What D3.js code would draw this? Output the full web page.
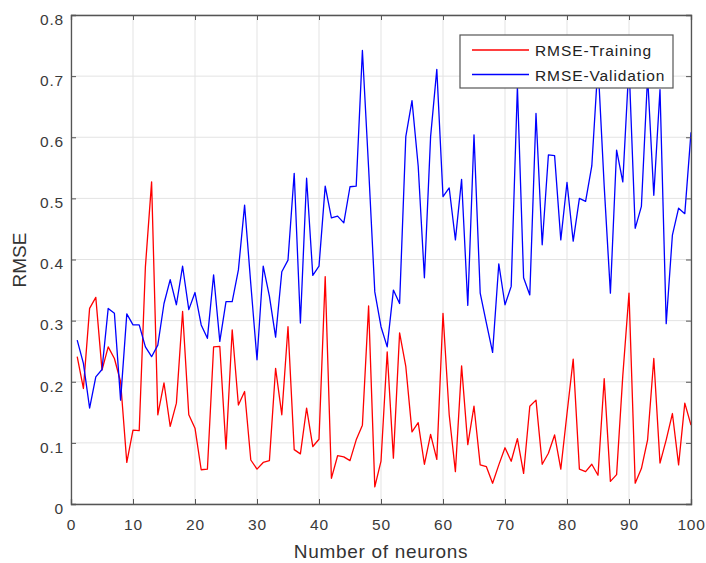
<!DOCTYPE html>
<html>
<head>
<meta charset="utf-8">
<script src="https://cdn.jsdelivr.net/npm/d3@7"></script>
<style>
  html, body { margin: 0; padding: 0; background: #fff; }
  svg { display: block; font-family: "Liberation Sans", Arial, sans-serif; }
</style>
</head>
<body>
<svg id="chart" width="706" height="563"></svg>
<script>
const neurons = d3.range(1, 101);
const rmseTraining = [
  0.241, 0.189, 0.320, 0.338, 0.219, 0.257, 0.238, 0.200, 0.068, 0.121,
  0.120, 0.388, 0.527, 0.146, 0.198, 0.127, 0.165, 0.315, 0.146, 0.124,
  0.056, 0.057, 0.257, 0.258, 0.090, 0.285, 0.162, 0.184, 0.072, 0.057,
  0.068, 0.071, 0.222, 0.146, 0.290, 0.089, 0.082, 0.157, 0.094, 0.106,
  0.372, 0.042, 0.079, 0.077, 0.071, 0.105, 0.129, 0.324, 0.028, 0.070,
  0.249, 0.075, 0.280, 0.225, 0.118, 0.133, 0.065, 0.114, 0.073, 0.312,
  0.146, 0.053, 0.226, 0.097, 0.160, 0.064, 0.061, 0.034, 0.064, 0.092,
  0.070, 0.107, 0.050, 0.160, 0.170, 0.065, 0.083, 0.113, 0.057, 0.148,
  0.237, 0.057, 0.053, 0.065, 0.047, 0.205, 0.037, 0.048, 0.210, 0.345,
  0.034, 0.058, 0.105, 0.238, 0.067, 0.105, 0.148, 0.064, 0.165, 0.129
];
const rmseValidation = [
  0.268, 0.230, 0.157, 0.208, 0.220, 0.320, 0.312, 0.170, 0.311, 0.293,
  0.293, 0.257, 0.241, 0.260, 0.328, 0.367, 0.326, 0.389, 0.318, 0.346,
  0.293, 0.271, 0.375, 0.266, 0.331, 0.331, 0.383, 0.489, 0.360, 0.236,
  0.389, 0.340, 0.273, 0.380, 0.399, 0.541, 0.296, 0.533, 0.374, 0.389,
  0.520, 0.468, 0.471, 0.460, 0.519, 0.520, 0.742, 0.550, 0.347, 0.290,
  0.257, 0.350, 0.328, 0.601, 0.660, 0.553, 0.370, 0.601, 0.711, 0.503,
  0.517, 0.432, 0.531, 0.325, 0.604, 0.345, 0.296, 0.248, 0.393, 0.326,
  0.356, 0.683, 0.370, 0.342, 0.639, 0.424, 0.571, 0.570, 0.432, 0.526,
  0.430, 0.500, 0.495, 0.553, 0.720, 0.520, 0.345, 0.579, 0.527, 0.720,
  0.451, 0.487, 0.700, 0.505, 0.678, 0.295, 0.440, 0.484, 0.475, 0.608
];
const xTicks = [0, 10, 20, 30, 40, 50, 60, 70, 80, 90, 100];
const yTicks = [0, 0.1, 0.2, 0.3, 0.4, 0.5, 0.6, 0.7, 0.8];
const seriesNames = ["RMSE-Training", "RMSE-Validation"];
const seriesColors = ["#ff0000", "#0000ff"];

const svg = d3.select("#chart");
const L = 71, R = 691, T = 15, B = 504;
const x = d3.scaleLinear().domain([0, 100]).range([L, R]);
const y = d3.scaleLinear().domain([0, 0.8]).range([B, T]);

// grid
const grid = svg.append("g");
grid.selectAll("line.vx").data(xTicks).join("line")
  .attr("x1", d => x(d)).attr("x2", d => x(d)).attr("y1", T).attr("y2", B)
  .attr("stroke", "#e3e3e3").attr("stroke-width", 1);
grid.selectAll("line.hy").data(yTicks).join("line")
  .attr("x1", L).attr("x2", R).attr("y1", d => y(d)).attr("y2", d => y(d))
  .attr("stroke", "#e3e3e3").attr("stroke-width", 1);

// lines
const line = d3.line().x((d, i) => x(neurons[i])).y(d => y(d));
[rmseTraining, rmseValidation].forEach((s, k) => {
  svg.append("path").datum(s)
    .attr("d", line).attr("fill", "none")
    .attr("stroke", seriesColors[k]).attr("stroke-width", 1.3)
    .attr("stroke-linejoin", "round");
});

// axes
const axCol = "#555";
const xAxisB = svg.append("g").attr("transform", `translate(0,${B})`)
  .call(d3.axisBottom(x).tickValues(xTicks).tickSize(-5).tickPadding(15).tickFormat(d3.format("d")));
const xAxisT = svg.append("g").attr("transform", `translate(0,${T})`)
  .call(d3.axisTop(x).tickValues(xTicks).tickSize(-5).tickFormat(""));
const yAxisL = svg.append("g").attr("transform", `translate(${L},0)`)
  .call(d3.axisLeft(y).tickValues(yTicks).tickSize(-5).tickPadding(7).tickFormat(d => d === 0 ? "0" : d3.format(".1f")(d)));
const yAxisR = svg.append("g").attr("transform", `translate(${R},0)`)
  .call(d3.axisRight(y).tickValues(yTicks).tickSize(-5).tickFormat(""));
[xAxisB, xAxisT, yAxisL, yAxisR].forEach(g => {
  g.selectAll("path.domain").attr("stroke", axCol).attr("stroke-width", 1.3);
  g.selectAll(".tick line").attr("stroke", axCol).attr("stroke-width", 1);
  g.selectAll("text").attr("fill", "#3a3a3a").attr("font-size", 15.5)
    .attr("letter-spacing", "0.8px")
    .attr("font-family", "'Liberation Sans', Arial, sans-serif");
});
yAxisL.selectAll("text").attr("dy", "0.6em");

// axis titles
svg.append("text").attr("x", (L + R) / 2).attr("y", 558)
  .attr("text-anchor", "middle").attr("font-size", 19).attr("letter-spacing", "0.7px")
  .attr("fill", "#333")
  .text("Number of neurons");
svg.append("text").attr("transform", `translate(26,${260}) rotate(-90)`)
  .attr("text-anchor", "middle").attr("font-size", 19).attr("fill", "#333")
  .text("RMSE");

// legend
const lg = svg.append("g");
lg.append("rect").attr("x", 460).attr("y", 35).attr("width", 213).attr("height", 53)
  .attr("fill", "#fff").attr("stroke", "#555").attr("stroke-width", 1.2);
seriesNames.forEach((n, i) => {
  const yy = 50 + i * 24.5;
  lg.append("line").attr("x1", 472).attr("x2", 529).attr("y1", yy).attr("y2", yy)
    .attr("stroke", seriesColors[i]).attr("stroke-width", 1.3);
  lg.append("text").attr("x", 535).attr("y", yy + 6).attr("font-size", 15.5)
    .attr("letter-spacing", "0.9px")
    .attr("fill", "#222").text(n);
});
</script>
</body>
</html>
